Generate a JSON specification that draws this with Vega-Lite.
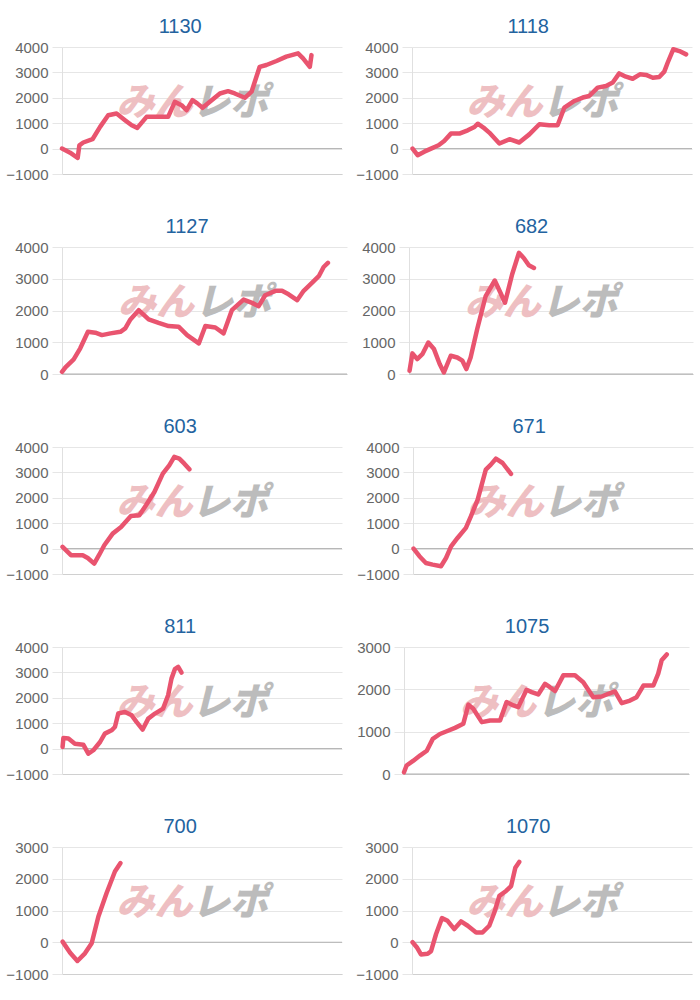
{
  "$schema": "https://vega.github.io/schema/vega-lite/v6.json",
  "background": "white",
  "padding": {"left": 5, "top": 17, "right": 0, "bottom": 0},
  "datasets": {
    "zero": [{"z": 0}],
    "wm1": [{"w": "みん"}],
    "wm2": [{"w": "レポ"}],
    "s1130": [{"t":0,"v":0},{"t":2.9,"v":-160},{"t":5.6,"v":-370},{"t":6.2,"v":130},{"t":7.6,"v":240},{"t":10.9,"v":370},{"t":13.6,"v":855},{"t":16.5,"v":1315},{"t":19.5,"v":1380},{"t":22.5,"v":1120},{"t":24.9,"v":920},{"t":26.9,"v":815},{"t":30.2,"v":1250},{"t":33.8,"v":1250},{"t":37.9,"v":1250},{"t":40.3,"v":1840},{"t":42.7,"v":1710},{"t":44.5,"v":1510},{"t":46.6,"v":1910},{"t":48.3,"v":1780},{"t":50.2,"v":1605},{"t":52.8,"v":1840},{"t":56.4,"v":2170},{"t":59.3,"v":2260},{"t":61.7,"v":2170},{"t":65.3,"v":2000},{"t":67.7,"v":2240},{"t":70.6,"v":3220},{"t":73.0,"v":3290},{"t":76.6,"v":3450},{"t":80.1,"v":3620},{"t":84.3,"v":3750},{"t":86.1,"v":3550},{"t":88.5,"v":3220},{"t":89.1,"v":3680}],
    "s1118": [{"t":0.2,"v":0},{"t":2.0,"v":-260},{"t":4.4,"v":-120},{"t":6.8,"v":0},{"t":9.5,"v":130},{"t":11.5,"v":300},{"t":13.9,"v":590},{"t":16.9,"v":590},{"t":19.9,"v":720},{"t":22.3,"v":850},{"t":23.5,"v":980},{"t":25.5,"v":830},{"t":27.6,"v":630},{"t":31.2,"v":200},{"t":34.8,"v":370},{"t":38.3,"v":240},{"t":41.9,"v":560},{"t":45.5,"v":960},{"t":49.0,"v":920},{"t":52.0,"v":920},{"t":54.4,"v":1610},{"t":58.0,"v":1875},{"t":61.0,"v":2010},{"t":63.3,"v":2070},{"t":66.3,"v":2400},{"t":69.3,"v":2465},{"t":71.7,"v":2600},{"t":74.0,"v":2960},{"t":76.4,"v":2830},{"t":78.8,"v":2750},{"t":81.4,"v":2925},{"t":83.6,"v":2900},{"t":86.0,"v":2790},{"t":88.3,"v":2820},{"t":90.1,"v":3030},{"t":91.3,"v":3380},{"t":93.3,"v":3910},{"t":95.5,"v":3840},{"t":97.9,"v":3710}],
    "s1127": [{"t":0,"v":70},{"t":1.2,"v":210},{"t":4.1,"v":460},{"t":6.4,"v":810},{"t":9.1,"v":1330},{"t":11.7,"v":1300},{"t":14.0,"v":1225},{"t":17.0,"v":1280},{"t":20.5,"v":1330},{"t":22.2,"v":1435},{"t":24.0,"v":1720},{"t":26.9,"v":2010},{"t":30.4,"v":1720},{"t":33.9,"v":1610},{"t":37.4,"v":1510},{"t":40.9,"v":1490},{"t":43.9,"v":1225},{"t":48.0,"v":965},{"t":50.3,"v":1510},{"t":53.8,"v":1465},{"t":56.7,"v":1280},{"t":59.6,"v":2010},{"t":63.7,"v":2345},{"t":66.7,"v":2240},{"t":69.0,"v":2135},{"t":71.3,"v":2480},{"t":74.9,"v":2620},{"t":77.2,"v":2620},{"t":79.5,"v":2510},{"t":82.5,"v":2325},{"t":84.8,"v":2620},{"t":87.7,"v":2870},{"t":90.1,"v":3080},{"t":91.8,"v":3370},{"t":93.3,"v":3500}],
    "s682": [{"t":0.2,"v":105},{"t":1.2,"v":650},{"t":2.9,"v":470},{"t":4.7,"v":625},{"t":6.8,"v":990},{"t":8.8,"v":785},{"t":10.8,"v":315},{"t":12.3,"v":50},{"t":14.7,"v":575},{"t":17.0,"v":520},{"t":18.8,"v":420},{"t":20.2,"v":155},{"t":21.7,"v":520},{"t":24.0,"v":1410},{"t":27.0,"v":2455},{"t":30.2,"v":2945},{"t":32.2,"v":2560},{"t":33.8,"v":2245},{"t":36.3,"v":3135},{"t":38.7,"v":3815},{"t":40.4,"v":3655},{"t":42.2,"v":3425},{"t":44.0,"v":3340}],
    "s603": [{"t":0.2,"v":65},{"t":3.2,"v":-260},{"t":7.4,"v":-260},{"t":9.2,"v":-370},{"t":11.5,"v":-590},{"t":13.3,"v":-240},{"t":15.1,"v":130},{"t":18.1,"v":590},{"t":21.1,"v":850},{"t":24.6,"v":1285},{"t":27.6,"v":1310},{"t":30.0,"v":1705},{"t":33.0,"v":2230},{"t":36.0,"v":2950},{"t":38.3,"v":3280},{"t":40.1,"v":3610},{"t":41.9,"v":3545},{"t":43.7,"v":3345},{"t":45.5,"v":3120}],
    "s671": [{"t":0.2,"v":0},{"t":2.3,"v":-300},{"t":4.6,"v":-565},{"t":7.0,"v":-630},{"t":10.0,"v":-695},{"t":11.8,"v":-370},{"t":13.6,"v":90},{"t":15.9,"v":420},{"t":18.9,"v":815},{"t":20.7,"v":1275},{"t":23.1,"v":1930},{"t":26.0,"v":3110},{"t":27.8,"v":3305},{"t":29.6,"v":3540},{"t":32.0,"v":3370},{"t":35.0,"v":2940}],
    "s811": [{"t":0.2,"v":65},{"t":0.5,"v":420},{"t":2.3,"v":395},{"t":4.6,"v":195},{"t":7.6,"v":155},{"t":9.4,"v":-200},{"t":11.2,"v":-65},{"t":13.6,"v":260},{"t":15.3,"v":590},{"t":17.7,"v":720},{"t":18.9,"v":850},{"t":20.1,"v":1380},{"t":22.5,"v":1445},{"t":24.9,"v":1310},{"t":26.6,"v":1050},{"t":28.8,"v":750},{"t":30.8,"v":1180},{"t":33.2,"v":1380},{"t":36.1,"v":1575},{"t":37.9,"v":2100},{"t":39.1,"v":2755},{"t":40.3,"v":3125},{"t":41.5,"v":3215},{"t":42.7,"v":2990}],
    "s1075": [{"t":0,"v":40},{"t":0.9,"v":200},{"t":3.3,"v":315},{"t":5.6,"v":435},{"t":8.0,"v":550},{"t":10.1,"v":830},{"t":12.6,"v":945},{"t":15.0,"v":1010},{"t":17.9,"v":1090},{"t":20.8,"v":1185},{"t":22.6,"v":1640},{"t":24.3,"v":1540},{"t":27.3,"v":1225},{"t":30.2,"v":1265},{"t":33.7,"v":1265},{"t":36.0,"v":1700},{"t":38.4,"v":1620},{"t":40.1,"v":1580},{"t":43.0,"v":1990},{"t":44.8,"v":1935},{"t":47.1,"v":1880},{"t":49.5,"v":2130},{"t":51.2,"v":2050},{"t":53.0,"v":1960},{"t":55.9,"v":2330},{"t":60.0,"v":2330},{"t":62.9,"v":2170},{"t":66.4,"v":1815},{"t":69.4,"v":1830},{"t":71.7,"v":1895},{"t":74.0,"v":1950},{"t":76.4,"v":1675},{"t":79.3,"v":1735},{"t":81.6,"v":1815},{"t":84.0,"v":2090},{"t":87.5,"v":2090},{"t":89.2,"v":2370},{"t":90.4,"v":2685},{"t":92.2,"v":2825}],
    "s700": [{"t":0.2,"v":20},{"t":2.9,"v":-330},{"t":5.5,"v":-590},{"t":8.2,"v":-350},{"t":10.6,"v":-30},{"t":13.0,"v":810},{"t":15.9,"v":1545},{"t":18.9,"v":2230},{"t":20.9,"v":2495}],
    "s1070": [{"t":0.2,"v":0},{"t":1.7,"v":-155},{"t":3.2,"v":-385},{"t":5.6,"v":-365},{"t":6.8,"v":-280},{"t":8.6,"v":260},{"t":10.7,"v":760},{"t":12.7,"v":675},{"t":15.1,"v":415},{"t":17.5,"v":655},{"t":19.9,"v":520},{"t":22.9,"v":310},{"t":25.2,"v":310},{"t":27.6,"v":520},{"t":29.4,"v":935},{"t":31.2,"v":1460},{"t":33.6,"v":1615},{"t":35.4,"v":1770},{"t":36.9,"v":2345},{"t":38.3,"v":2530}]
  },
  "vconcat": [
    {"spacing": 12, "hconcat": [
      {"title": {"text": "1130", "dx": 6}, "width": 280, "height": 127, "layer": [
        {"data": {"name": "zero"}, "mark": {"type": "rule", "color": "#b0b0b0", "strokeWidth": 1}, "encoding": {"y": {"field": "z", "type": "quantitative", "scale": {"domain": [-1000, 4000], "nice": false}}}},
        {"data": {"name": "wm1"}, "mark": {"type": "text", "color": "#eebfc2", "font": "Noto Sans CJK JP", "fontSize": 38, "fontWeight": 900, "fontStyle": "italic"}, "encoding": {"text": {"field": "w"}, "x": {"datum": 33, "type": "quantitative", "scale": {"domain": [0, 100]}}, "y": {"datum": 1756, "type": "quantitative", "scale": {"domain": [-1000, 4000], "nice": false}}}},
        {"data": {"name": "wm2"}, "mark": {"type": "text", "color": "#bcbcbc", "font": "Noto Sans CJK JP", "fontSize": 38, "fontWeight": 900, "fontStyle": "italic"}, "encoding": {"text": {"field": "w"}, "x": {"datum": 60, "type": "quantitative", "scale": {"domain": [0, 100]}}, "y": {"datum": 1756, "type": "quantitative", "scale": {"domain": [-1000, 4000], "nice": false}}}},
        {"data": {"name": "s1130"}, "mark": "line", "encoding": {"x": {"field": "t", "type": "quantitative", "scale": {"domain": [0, 100]}}, "y": {"field": "v", "type": "quantitative", "scale": {"domain": [-1000, 4000], "nice": false}}}}
      ]},
      {"title": {"text": "1118", "dx": 4}, "width": 280, "height": 127, "layer": [
        {"data": {"name": "zero"}, "mark": {"type": "rule", "color": "#b0b0b0", "strokeWidth": 1}, "encoding": {"y": {"field": "z", "type": "quantitative", "scale": {"domain": [-1000, 4000], "nice": false}}}},
        {"data": {"name": "wm1"}, "mark": {"type": "text", "color": "#eebfc2", "font": "Noto Sans CJK JP", "fontSize": 38, "fontWeight": 900, "fontStyle": "italic"}, "encoding": {"text": {"field": "w"}, "x": {"datum": 33, "type": "quantitative", "scale": {"domain": [0, 100]}}, "y": {"datum": 1756, "type": "quantitative", "scale": {"domain": [-1000, 4000], "nice": false}}}},
        {"data": {"name": "wm2"}, "mark": {"type": "text", "color": "#bcbcbc", "font": "Noto Sans CJK JP", "fontSize": 38, "fontWeight": 900, "fontStyle": "italic"}, "encoding": {"text": {"field": "w"}, "x": {"datum": 60, "type": "quantitative", "scale": {"domain": [0, 100]}}, "y": {"datum": 1756, "type": "quantitative", "scale": {"domain": [-1000, 4000], "nice": false}}}},
        {"data": {"name": "s1118"}, "mark": "line", "encoding": {"x": {"field": "t", "type": "quantitative", "scale": {"domain": [0, 100]}}, "y": {"field": "v", "type": "quantitative", "scale": {"domain": [-1000, 4000], "nice": false}}}}
      ]}
    ]},
    {"spacing": 13, "hconcat": [
      {"title": {"text": "1127", "dx": 6}, "width": 285, "height": 127, "layer": [
        {"data": {"name": "zero"}, "mark": {"type": "rule", "color": "#b0b0b0", "strokeWidth": 1}, "encoding": {"y": {"field": "z", "type": "quantitative", "scale": {"domain": [0, 4000], "nice": false}}}},
        {"data": {"name": "wm1"}, "mark": {"type": "text", "color": "#eebfc2", "font": "Noto Sans CJK JP", "fontSize": 38, "fontWeight": 900, "fontStyle": "italic"}, "encoding": {"text": {"field": "w"}, "x": {"datum": 33, "type": "quantitative", "scale": {"domain": [0, 100]}}, "y": {"datum": 2205, "type": "quantitative", "scale": {"domain": [0, 4000], "nice": false}}}},
        {"data": {"name": "wm2"}, "mark": {"type": "text", "color": "#bcbcbc", "font": "Noto Sans CJK JP", "fontSize": 38, "fontWeight": 900, "fontStyle": "italic"}, "encoding": {"text": {"field": "w"}, "x": {"datum": 60, "type": "quantitative", "scale": {"domain": [0, 100]}}, "y": {"datum": 2205, "type": "quantitative", "scale": {"domain": [0, 4000], "nice": false}}}},
        {"data": {"name": "s1127"}, "mark": "line", "encoding": {"x": {"field": "t", "type": "quantitative", "scale": {"domain": [0, 100]}}, "y": {"field": "v", "type": "quantitative", "scale": {"domain": [0, 4000], "nice": false}}}}
      ]},
      {"title": {"text": "682", "dx": 4}, "width": 284, "height": 127, "layer": [
        {"data": {"name": "zero"}, "mark": {"type": "rule", "color": "#b0b0b0", "strokeWidth": 1}, "encoding": {"y": {"field": "z", "type": "quantitative", "scale": {"domain": [0, 4000], "nice": false}}}},
        {"data": {"name": "wm1"}, "mark": {"type": "text", "color": "#eebfc2", "font": "Noto Sans CJK JP", "fontSize": 38, "fontWeight": 900, "fontStyle": "italic"}, "encoding": {"text": {"field": "w"}, "x": {"datum": 33, "type": "quantitative", "scale": {"domain": [0, 100]}}, "y": {"datum": 2205, "type": "quantitative", "scale": {"domain": [0, 4000], "nice": false}}}},
        {"data": {"name": "wm2"}, "mark": {"type": "text", "color": "#bcbcbc", "font": "Noto Sans CJK JP", "fontSize": 38, "fontWeight": 900, "fontStyle": "italic"}, "encoding": {"text": {"field": "w"}, "x": {"datum": 60, "type": "quantitative", "scale": {"domain": [0, 100]}}, "y": {"datum": 2205, "type": "quantitative", "scale": {"domain": [0, 4000], "nice": false}}}},
        {"data": {"name": "s682"}, "mark": "line", "encoding": {"x": {"field": "t", "type": "quantitative", "scale": {"domain": [0, 100]}}, "y": {"field": "v", "type": "quantitative", "scale": {"domain": [0, 4000], "nice": false}}}}
      ]}
    ]},
    {"spacing": 13, "hconcat": [
      {"title": {"text": "603", "dx": 6}, "width": 280, "height": 127, "layer": [
        {"data": {"name": "zero"}, "mark": {"type": "rule", "color": "#b0b0b0", "strokeWidth": 1}, "encoding": {"y": {"field": "z", "type": "quantitative", "scale": {"domain": [-1000, 4000], "nice": false}}}},
        {"data": {"name": "wm1"}, "mark": {"type": "text", "color": "#eebfc2", "font": "Noto Sans CJK JP", "fontSize": 38, "fontWeight": 900, "fontStyle": "italic"}, "encoding": {"text": {"field": "w"}, "x": {"datum": 33, "type": "quantitative", "scale": {"domain": [0, 100]}}, "y": {"datum": 1756, "type": "quantitative", "scale": {"domain": [-1000, 4000], "nice": false}}}},
        {"data": {"name": "wm2"}, "mark": {"type": "text", "color": "#bcbcbc", "font": "Noto Sans CJK JP", "fontSize": 38, "fontWeight": 900, "fontStyle": "italic"}, "encoding": {"text": {"field": "w"}, "x": {"datum": 60, "type": "quantitative", "scale": {"domain": [0, 100]}}, "y": {"datum": 1756, "type": "quantitative", "scale": {"domain": [-1000, 4000], "nice": false}}}},
        {"data": {"name": "s603"}, "mark": "line", "encoding": {"x": {"field": "t", "type": "quantitative", "scale": {"domain": [0, 100]}}, "y": {"field": "v", "type": "quantitative", "scale": {"domain": [-1000, 4000], "nice": false}}}}
      ]},
      {"title": {"text": "671", "dx": 4}, "width": 280, "height": 127, "layer": [
        {"data": {"name": "zero"}, "mark": {"type": "rule", "color": "#b0b0b0", "strokeWidth": 1}, "encoding": {"y": {"field": "z", "type": "quantitative", "scale": {"domain": [-1000, 4000], "nice": false}}}},
        {"data": {"name": "wm1"}, "mark": {"type": "text", "color": "#eebfc2", "font": "Noto Sans CJK JP", "fontSize": 38, "fontWeight": 900, "fontStyle": "italic"}, "encoding": {"text": {"field": "w"}, "x": {"datum": 33, "type": "quantitative", "scale": {"domain": [0, 100]}}, "y": {"datum": 1756, "type": "quantitative", "scale": {"domain": [-1000, 4000], "nice": false}}}},
        {"data": {"name": "wm2"}, "mark": {"type": "text", "color": "#bcbcbc", "font": "Noto Sans CJK JP", "fontSize": 38, "fontWeight": 900, "fontStyle": "italic"}, "encoding": {"text": {"field": "w"}, "x": {"datum": 60, "type": "quantitative", "scale": {"domain": [0, 100]}}, "y": {"datum": 1756, "type": "quantitative", "scale": {"domain": [-1000, 4000], "nice": false}}}},
        {"data": {"name": "s671"}, "mark": "line", "encoding": {"x": {"field": "t", "type": "quantitative", "scale": {"domain": [0, 100]}}, "y": {"field": "v", "type": "quantitative", "scale": {"domain": [-1000, 4000], "nice": false}}}}
      ]}
    ]},
    {"spacing": 13, "hconcat": [
      {"title": {"text": "811", "dx": 6}, "width": 280, "height": 127, "layer": [
        {"data": {"name": "zero"}, "mark": {"type": "rule", "color": "#b0b0b0", "strokeWidth": 1}, "encoding": {"y": {"field": "z", "type": "quantitative", "scale": {"domain": [-1000, 4000], "nice": false}}}},
        {"data": {"name": "wm1"}, "mark": {"type": "text", "color": "#eebfc2", "font": "Noto Sans CJK JP", "fontSize": 38, "fontWeight": 900, "fontStyle": "italic"}, "encoding": {"text": {"field": "w"}, "x": {"datum": 33, "type": "quantitative", "scale": {"domain": [0, 100]}}, "y": {"datum": 1756, "type": "quantitative", "scale": {"domain": [-1000, 4000], "nice": false}}}},
        {"data": {"name": "wm2"}, "mark": {"type": "text", "color": "#bcbcbc", "font": "Noto Sans CJK JP", "fontSize": 38, "fontWeight": 900, "fontStyle": "italic"}, "encoding": {"text": {"field": "w"}, "x": {"datum": 60, "type": "quantitative", "scale": {"domain": [0, 100]}}, "y": {"datum": 1756, "type": "quantitative", "scale": {"domain": [-1000, 4000], "nice": false}}}},
        {"data": {"name": "s811"}, "mark": "line", "encoding": {"x": {"field": "t", "type": "quantitative", "scale": {"domain": [0, 100]}}, "y": {"field": "v", "type": "quantitative", "scale": {"domain": [-1000, 4000], "nice": false}}}}
      ]},
      {"title": {"text": "1075", "dx": 4}, "width": 285, "height": 127, "layer": [
        {"data": {"name": "zero"}, "mark": {"type": "rule", "color": "#b0b0b0", "strokeWidth": 1}, "encoding": {"y": {"field": "z", "type": "quantitative", "scale": {"domain": [0, 3000], "nice": false}}}},
        {"data": {"name": "wm1"}, "mark": {"type": "text", "color": "#eebfc2", "font": "Noto Sans CJK JP", "fontSize": 38, "fontWeight": 900, "fontStyle": "italic"}, "encoding": {"text": {"field": "w"}, "x": {"datum": 33, "type": "quantitative", "scale": {"domain": [0, 100]}}, "y": {"datum": 1653, "type": "quantitative", "scale": {"domain": [0, 3000], "nice": false}}}},
        {"data": {"name": "wm2"}, "mark": {"type": "text", "color": "#bcbcbc", "font": "Noto Sans CJK JP", "fontSize": 38, "fontWeight": 900, "fontStyle": "italic"}, "encoding": {"text": {"field": "w"}, "x": {"datum": 60, "type": "quantitative", "scale": {"domain": [0, 100]}}, "y": {"datum": 1653, "type": "quantitative", "scale": {"domain": [0, 3000], "nice": false}}}},
        {"data": {"name": "s1075"}, "mark": "line", "encoding": {"x": {"field": "t", "type": "quantitative", "scale": {"domain": [0, 100]}}, "y": {"field": "v", "type": "quantitative", "scale": {"domain": [0, 3000], "nice": false}}}}
      ]}
    ]},
    {"spacing": 12, "hconcat": [
      {"title": {"text": "700", "dx": 6}, "width": 280, "height": 127, "layer": [
        {"data": {"name": "zero"}, "mark": {"type": "rule", "color": "#b0b0b0", "strokeWidth": 1}, "encoding": {"y": {"field": "z", "type": "quantitative", "scale": {"domain": [-1000, 3000], "nice": false}}}},
        {"data": {"name": "wm1"}, "mark": {"type": "text", "color": "#eebfc2", "font": "Noto Sans CJK JP", "fontSize": 38, "fontWeight": 900, "fontStyle": "italic"}, "encoding": {"text": {"field": "w"}, "x": {"datum": 33, "type": "quantitative", "scale": {"domain": [0, 100]}}, "y": {"datum": 1204, "type": "quantitative", "scale": {"domain": [-1000, 3000], "nice": false}}}},
        {"data": {"name": "wm2"}, "mark": {"type": "text", "color": "#bcbcbc", "font": "Noto Sans CJK JP", "fontSize": 38, "fontWeight": 900, "fontStyle": "italic"}, "encoding": {"text": {"field": "w"}, "x": {"datum": 60, "type": "quantitative", "scale": {"domain": [0, 100]}}, "y": {"datum": 1204, "type": "quantitative", "scale": {"domain": [-1000, 3000], "nice": false}}}},
        {"data": {"name": "s700"}, "mark": "line", "encoding": {"x": {"field": "t", "type": "quantitative", "scale": {"domain": [0, 100]}}, "y": {"field": "v", "type": "quantitative", "scale": {"domain": [-1000, 3000], "nice": false}}}}
      ]},
      {"title": {"text": "1070", "dx": 4}, "width": 280, "height": 127, "layer": [
        {"data": {"name": "zero"}, "mark": {"type": "rule", "color": "#b0b0b0", "strokeWidth": 1}, "encoding": {"y": {"field": "z", "type": "quantitative", "scale": {"domain": [-1000, 3000], "nice": false}}}},
        {"data": {"name": "wm1"}, "mark": {"type": "text", "color": "#eebfc2", "font": "Noto Sans CJK JP", "fontSize": 38, "fontWeight": 900, "fontStyle": "italic"}, "encoding": {"text": {"field": "w"}, "x": {"datum": 33, "type": "quantitative", "scale": {"domain": [0, 100]}}, "y": {"datum": 1204, "type": "quantitative", "scale": {"domain": [-1000, 3000], "nice": false}}}},
        {"data": {"name": "wm2"}, "mark": {"type": "text", "color": "#bcbcbc", "font": "Noto Sans CJK JP", "fontSize": 38, "fontWeight": 900, "fontStyle": "italic"}, "encoding": {"text": {"field": "w"}, "x": {"datum": 60, "type": "quantitative", "scale": {"domain": [0, 100]}}, "y": {"datum": 1204, "type": "quantitative", "scale": {"domain": [-1000, 3000], "nice": false}}}},
        {"data": {"name": "s1070"}, "mark": "line", "encoding": {"x": {"field": "t", "type": "quantitative", "scale": {"domain": [0, 100]}}, "y": {"field": "v", "type": "quantitative", "scale": {"domain": [-1000, 3000], "nice": false}}}}
      ]}
    ]}
  ],
  "spacing": 35,
  "config": {
    "view": {"stroke": null},
    "font": "Liberation Sans",
    "numberFormat": "d",
    "title": {"fontSize": 20, "font": "Liberation Sans", "fontWeight": "normal", "color": "#23639f", "anchor": "middle", "frame": "bounds", "offset": 3},
    "line": {"color": "#e9546f", "strokeWidth": 4.5, "strokeJoin": "round", "strokeCap": "round"},
    "axisY": {"title": null, "tickCount": 5, "tickMinStep": 1000, "labelFont": "Liberation Sans", "labelFontSize": 15, "labelColor": "#666666", "tickSize": 10, "labelPadding": 4, "domainColor": "#e0e0e0", "gridColor": "#e6e6e6", "tickColor": "#e6e6e6"},
    "axisX": {"title": null, "labels": false, "ticks": false, "grid": false, "domainColor": "#d0d0d0"}
  }
}
